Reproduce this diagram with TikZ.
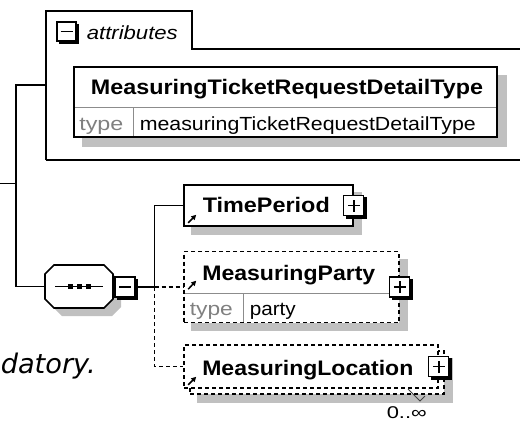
\documentclass[tikz,border=0pt]{standalone}
\usepackage{fontspec}
\usepackage{graphicx}
\setmainfont{Liberation Sans}
\newfontfamily\verdfont{DejaVu Sans}
\usetikzlibrary{arrows.meta,calc}
\newcommand\fw[2]{\resizebox{#1pt}{\height}{#2}}
\newcommand\iconedge[1]{\draw[line width=2.6pt] ([xshift=1.3pt,yshift=-2.5pt]#1.north east) |- ([xshift=2.5pt,yshift=-1.3pt]#1.south west);}
\definecolor{shadowgray}{RGB}{192,192,192}
\definecolor{typegray}{RGB}{128,128,128}
\definecolor{linegray}{RGB}{140,140,140}
\pgfdeclarelayer{bg}
\pgfsetlayers{bg,main}
\begin{document}
\begin{tikzpicture}[x=1pt,y=-1pt,line width=1.6pt,
  box/.style={draw,fill=white,inner sep=0pt,line width=1.6pt},
  dbox/.style={box,dash pattern=on 4pt off 3pt},
  opt/.style={dash pattern=on 4pt off 3pt},
  icon/.style={draw,fill=white,inner sep=0pt,minimum size=20pt,line width=1.2pt},
  plusicon/.style={icon,path picture={\draw[line width=1.6pt]
    ([xshift=-6pt]path picture bounding box.center) -- ([xshift=6pt]path picture bounding box.center)
    ([yshift=-6pt]path picture bounding box.center) -- ([yshift=6pt]path picture bounding box.center);}},
  minusicon/.style={icon,path picture={\draw[line width=1.6pt]
    ([xshift=-6pt]path picture bounding box.center) -- ([xshift=6pt]path picture bounding box.center);}},
  bname/.style={anchor=base west,inner sep=0pt,font=\fontsize{21}{24}\selectfont\bfseries},
  rname/.style={anchor=base west,inner sep=0pt,font=\fontsize{19}{22}\selectfont},
  tname/.style={rname,text=typegray},
  refarrow/.style={line width=1.5pt,-{Triangle[length=5pt,width=5pt]}}]
\useasboundingbox (0,0) rectangle (520,421);

% attributes group
\draw (46,160) -- (46,11) -- (192,11) -- (192,49) -- (522,49);
\draw (46,160) -- (522,160);
\node[minusicon,minimum size=19pt] (tabm) at (66.5,31.5) {};
\iconedge{tabm}
\node[anchor=base west,inner sep=0pt,font=\fontsize{19}{22}\selectfont\itshape] (attrtxt) at (86,39) {\fw{91}{attributes}};

% attribute box
\node[box,minimum width=423pt,minimum height=70pt] (hdr) at (285.5,102) {};
\draw[linegray,line width=1pt] (75,107) -- (496,107);
\draw[linegray,line width=1pt] (133,107) -- (133,136);
\node[bname,anchor=base] (hdrtitle) at (287,94) {\fw{392}{MeasuringTicketRequestDetailType}};
\node[tname] (hdrtype) at (78.5,130) {\fw{44}{type}};
\node[rname] (hdrval) at (139,130) {\fw{336}{measuringTicketRequestDetailType}};

% sequence compositor
\node[inner sep=0pt,minimum width=68pt,minimum height=43pt] (seq) at (79,286.5) {};
\draw[fill=white] (54,265) -- (104,265) -- (113,274) -- (113,299) -- (104,308) -- (54,308) -- (45,299) -- (45,274) -- cycle;
\draw (55,286.5) -- (103,286.5);
\fill (67.5,284) rectangle +(5,5);
\fill (76.5,284) rectangle +(5,5);
\fill (85.5,284) rectangle +(5,5);
\node[minusicon] (seqm) at (125,287) {};
\iconedge{seqm}

% TimePeriod
\node[box,minimum width=169pt,minimum height=41pt] (tp) at (268.5,205.5) {};
\node[bname] (tptxt) at (202,212) {\fw{127}{TimePeriod}};
\node[plusicon] (tpplus) at (tp.east) {};
\iconedge{tpplus}
\draw[refarrow] ($(tp.south west)+(5,-4)$) -- ($(tp.south west)+(13,-12)$);

% MeasuringParty
\node[dbox,minimum width=215pt,minimum height=71pt] (mp) at (291.5,287) {};
\draw[linegray,line width=1pt] (185,293) -- (398,293);
\draw[linegray,line width=1pt] (243,293) -- (243,322);
\node[bname] (mptxt) at (201.5,280) {\fw{173}{MeasuringParty}};
\node[tname] (mptype) at (189,315) {\fw{43}{type}};
\node[rname] (mpval) at (249,315) {\fw{46}{party}};
\node[plusicon] (mpplus) at (mp.east) {};
\iconedge{mpplus}
\draw[refarrow] ($(mp.north west)+(5,38.5)$) -- ($(mp.north west)+(13,30)$);

% MeasuringLocation (multiple)
\node[dbox,minimum width=254pt,minimum height=43pt] (mlb) at (317,372.5) {};
\node[dbox,minimum width=254pt,minimum height=43pt] (ml) at (311,366.5) {};
\node[bname] (mltxt) at (201.5,375) {\fw{211}{MeasuringLocation}};
\node[plusicon] (mlplus) at (ml.east) {};
\iconedge{mlplus}
\draw[refarrow] ($(ml.south west)+(5,-4)$) -- ($(ml.south west)+(13,-12)$);
\draw[line width=1pt,black!75] (408,389) -- (420,401) -- (425,396);
\node[rname,font=\fontsize{17}{20}\selectfont] (card) at (386,418) {\fw{40}{0..∞}};

% documentation fragment
\node[anchor=base west,inner sep=0pt,font=\verdfont\fontsize{27}{30}\selectfont\itshape] (doc) at (0,373) {\fw{95}{datory.}};

% connectors
\coordinate (root) at (0,183.5);
\coordinate (fork) at (16,183.5);
\coordinate (attrw) at (46,85);
\draw (root) -- (fork);
\draw (attrw) -| (fork);
\draw (fork) |- (seq.west);
\coordinate (sfork) at ($(seqm.east)+(19,0)$);
\draw (seqm.east) -- (sfork) |- (tp.west);
\draw[opt] (sfork) -- (mp.west);
\draw[opt] (sfork) |- (ml.west);

% shadows
\begin{pgfonlayer}{bg}
\fill[shadowgray] ($(hdr.south west)+(9,9)$) rectangle ($(hdr.north east)+(9,9)$);
\fill[shadowgray] ($(tp.south west)+(8,8)$) rectangle ($(tp.north east)+(8,8)$);
\fill[shadowgray] ($(mp.south west)+(8,8)$) rectangle ($(mp.north east)+(8,8)$);
\fill[shadowgray] ($(mlb.south west)+(8,8)$) rectangle ($(mlb.north east)+(8,8)$);
\fill[shadowgray] (62,273) -- (112,273) -- (121,282) -- (121,307) -- (112,316) -- (62,316) -- (53,307) -- (53,282) -- cycle;
\end{pgfonlayer}
\end{tikzpicture}
\end{document}
